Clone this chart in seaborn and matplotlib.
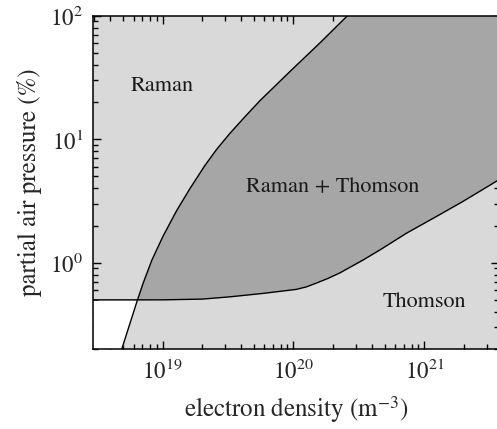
import numpy as np
import pandas as pd
import seaborn as sns
import matplotlib
matplotlib.use("Agg")
import matplotlib.pyplot as plt

# ---- data ----
raman_density = [4.89e18, 6.42e18, 7.11e18, 8.29e18, 1.011e19, 1.279e19, 1.616e19,
                 2.103e19, 2.584e19, 3.264e19, 4.249e19, 5.53e19, 9.37e19,
                 1.588e20, 2.643e20]
raman_pressure = [0.2014, 0.497, 0.684, 1.052, 1.649, 2.633, 3.974, 6.11, 8.25,
                  11.13, 15.15, 20.45, 35.2, 60.0, 102.3]

thomson_density = [2.94e18, 1.0e19, 2.0e19, 3.27e19, 5.86e19, 1.054e20, 1.257e20,
                   1.498e20, 1.827e20, 2.256e20, 3.40e20, 4.70e20, 7.29e20,
                   1.24e21, 1.97e21, 3.72e21]
thomson_pressure = [0.5, 0.5, 0.507, 0.529, 0.564, 0.608, 0.637, 0.684, 0.744,
                    0.825, 1.05, 1.29, 1.73, 2.37, 3.13, 4.7]

region_labels = ["Raman", "Raman + Thomson", "Thomson"]
label_density = [1.0e19, 1.98e20, 1.0e21]
label_pressure = [27.0, 4.1, 0.48]

XLIM = (2.94e18, 3.72e21)
YLIM = (0.2, 100.0)

LIGHT = "#d9d9d9"
DARK = "#a6a6a6"

sns.set_theme(style="ticks")
plt.rcParams["font.family"] = ["STIXGeneral", "DejaVu Serif"]
plt.rcParams["mathtext.fontset"] = "stix"

W, H = 497, 429
fig = plt.figure(figsize=(W / 100, H / 100), dpi=100)
ax = fig.add_axes([93 / W, 1 - 349 / H, (499 - 93) / W, (349 - 15.7) / H])
ax.set_facecolor(LIGHT)

ax.set_xscale("log")
ax.set_yscale("log")
ax.set_xlim(*XLIM)
ax.set_ylim(*YLIM)

# dark region: between Raman curve (upper/left) and Thomson curve (lower)
poly_x = raman_density[1:] + [XLIM[1]] + thomson_density[1:][::-1]
poly_y = raman_pressure[1:] + [raman_pressure[-1]] + thomson_pressure[1:][::-1]
ax.fill(poly_x, poly_y, color=DARK, lw=0, zorder=1)

# white region: neither technique
ax.fill_betweenx(raman_pressure[:2], XLIM[0], raman_density[:2], color="white",
                 lw=0, zorder=1)

df_r = pd.DataFrame({"density": raman_density, "pressure": raman_pressure})
df_t = pd.DataFrame({"density": thomson_density, "pressure": thomson_pressure})
sns.lineplot(data=df_r, x="density", y="pressure", ax=ax, color="black", lw=1.0,
             sort=False, estimator=None, zorder=3)
sns.lineplot(data=df_t, x="density", y="pressure", ax=ax, color="black", lw=1.0,
             sort=False, estimator=None, zorder=3)

for txt, xd, yd in zip(region_labels, label_density, label_pressure):
    ax.text(xd, yd, txt, ha="center", va="center", fontsize=16, color="#1a1a1a",
            zorder=4)

ax.set_xlabel("electron density (m$^{-3}$)", fontsize=18, labelpad=8)
ax.set_ylabel("partial air pressure (%)", fontsize=18, labelpad=6)

ax.tick_params(which="both", direction="in", top=True, right=True,
               labelsize=16.5, width=1.0, color="black")
ax.tick_params(which="major", length=6, pad=7)
ax.tick_params(which="minor", length=3.5)
for s in ax.spines.values():
    s.set_linewidth(1.1)
    s.set_color("black")
    s.set_zorder(5)

fig.savefig("out.png", dpi=100)
